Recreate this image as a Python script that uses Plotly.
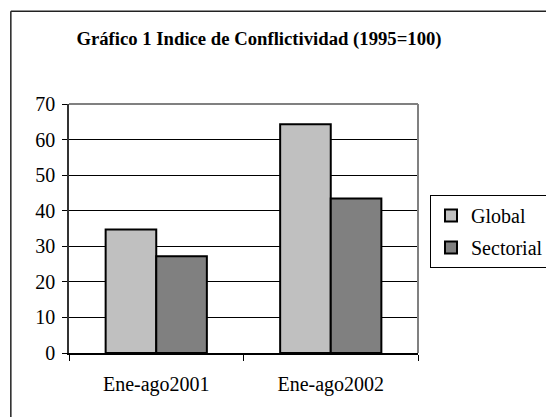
import plotly.graph_objects as go

categories = ["Ene-ago2001", "Ene-ago2002"]
global_vals = [34.7, 64.3]
sectorial_vals = [27.2, 43.4]
series_names = ["Global", "Sectorial"]
y_ticks = [0, 10, 20, 30, 40, 50, 60, 70]

OFF = 8  # browser body margin
W, H = 554 - OFF, 417 - OFF
L, R, T, B = 69 - OFF, 423 - OFF, 103.7 - OFF, 352.7 - OFF

FONT = "Liberation Serif"

fig = go.Figure()
fig.add_trace(go.Bar(x=categories, y=global_vals, name=series_names[0],
                     marker=dict(color="#C0C0C0", line=dict(color="black", width=2)),
                     legendgroup="g1"))
fig.add_trace(go.Bar(x=categories, y=sectorial_vals, name=series_names[1],
                     marker=dict(color="#808080", line=dict(color="black", width=2)),
                     legendgroup="g2"))

def px_x(p):
    return (p - OFF - L) / (R - L)

def px_y(p):
    return (B - (p - OFF)) / (B - T)

shapes = [
    # outer frame (left and top)
    dict(type="line", xref="paper", yref="paper", x0=px_x(10), x1=px_x(10), y0=px_y(11), y1=px_y(430),
         line=dict(color="#222222", width=1.5)),
    dict(type="line", xref="paper", yref="paper", x0=px_x(10), x1=px_x(570), y0=px_y(11), y1=px_y(11),
         line=dict(color="#222222", width=1.5)),
    # plot area top and right border (gray)
    dict(type="line", xref="paper", yref="paper", x0=0, x1=1, y0=1, y1=1,
         line=dict(color="#808080", width=2)),
    dict(type="line", xref="paper", yref="paper", x0=1, x1=1, y0=0, y1=1,
         line=dict(color="#808080", width=2)),
]

fig.update_layout(
    width=W, height=H,
    margin=dict(l=L, r=W - R, t=T, b=H - B),
    paper_bgcolor="white", plot_bgcolor="white",
    font=dict(family=FONT, size=20, color="black"),
    title=dict(text="<b>Gráfico 1 Indice de Conflictividad (1995=100)</b>",
               font=dict(family=FONT, size=18.7, color="black"),
               xref="container", yref="container", x=(259 - OFF) / W, y=1 - (38 - OFF) / H,
               xanchor="center", yanchor="middle"),
    barmode="group", bargap=0.42, bargroupgap=0,
    showlegend=True,
    legend=dict(xref="container", yref="container", x=(549 - OFF) / W, y=1 - (195 - OFF) / H,
                xanchor="right", yanchor="top",
                bordercolor="black", borderwidth=1, bgcolor="white",
                font=dict(family=FONT, size=20, color="black"),
                traceorder="grouped", tracegroupgap=3,
                itemwidth=30),
    xaxis=dict(type="category", range=[-0.5, 1.5], tickson="boundaries",
               ticks="outside", ticklen=6, tickcolor="black", tickwidth=1,
               showline=True, linecolor="black", linewidth=1.5,
               showgrid=False, ticklabelstandoff=12,
               tickfont=dict(family=FONT, size=20, color="black")),
    yaxis=dict(range=[0, 70], tickvals=y_ticks, ticks="outside", ticklen=5,
               tickcolor="black", tickwidth=1,
               showline=True, linecolor="#333333", linewidth=1.5,
               showgrid=True, gridcolor="black", gridwidth=1,
               zeroline=False, ticklabelstandoff=3,
               tickfont=dict(family=FONT, size=20, color="black")),
    shapes=shapes,
)

fig.write_html("out.html")
